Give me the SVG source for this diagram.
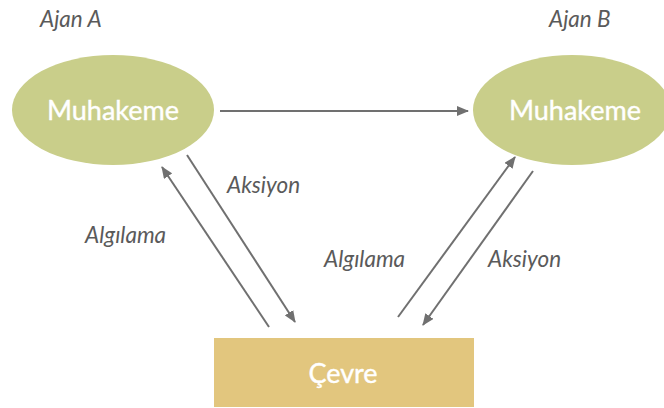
<svg xmlns="http://www.w3.org/2000/svg" width="664" height="408" viewBox="0 0 664 408">
<style>
.lbl{font-family:Lato,"Open Sans","Liberation Sans",sans-serif;font-style:italic;font-size:22.5px;fill:#5a5a5a}
.node{font-family:Lato,"Open Sans","Liberation Sans",sans-serif;font-size:27px;fill:#ffffff;text-anchor:middle;stroke:#ffffff;stroke-width:0.4}
.con{stroke:#707070;stroke-width:2;fill:none;marker-end:url(#ah)}
</style>
<defs>
<marker id="ah" viewBox="0 0 12 10" refX="11" refY="5" markerWidth="12" markerHeight="10" markerUnits="userSpaceOnUse" orient="auto">
<path d="M0,0 L12,5 L0,10 Z" fill="#707070"/>
</marker>
</defs>
<rect width="664" height="408" fill="#ffffff"/>
<g id="ajanA">
<text class="lbl" x="40" y="27">Ajan A</text>
<ellipse cx="113" cy="110" rx="101" ry="55" fill="#c9ce8a"/>
<text class="node" x="113" y="120">Muhakeme</text>
</g>
<g id="ajanB">
<text class="lbl" x="549" y="27">Ajan B</text>
<ellipse cx="572" cy="110" rx="99" ry="55" fill="#c9ce8a"/>
<text class="node" x="575" y="120">Muhakeme</text>
</g>
<g id="cevre">
<rect x="214" y="338" width="260" height="69" fill="#e2c67e"/>
<text class="node" x="343" y="383">Çevre</text>
</g>
<g id="connectors">
<line class="con" x1="220" y1="111" x2="468" y2="111"/>
<line class="con" x1="269" y1="327" x2="162" y2="167"/>
<line class="con" x1="187" y1="155" x2="295" y2="322"/>
<line class="con" x1="398" y1="317" x2="515" y2="157"/>
<line class="con" x1="533" y1="171" x2="423" y2="325"/>
<text class="lbl" x="227" y="193">Aksiyon</text>
<text class="lbl" x="85" y="243">Algılama</text>
<text class="lbl" x="324" y="267">Algılama</text>
<text class="lbl" x="488" y="267">Aksiyon</text>
</g>
</svg>
